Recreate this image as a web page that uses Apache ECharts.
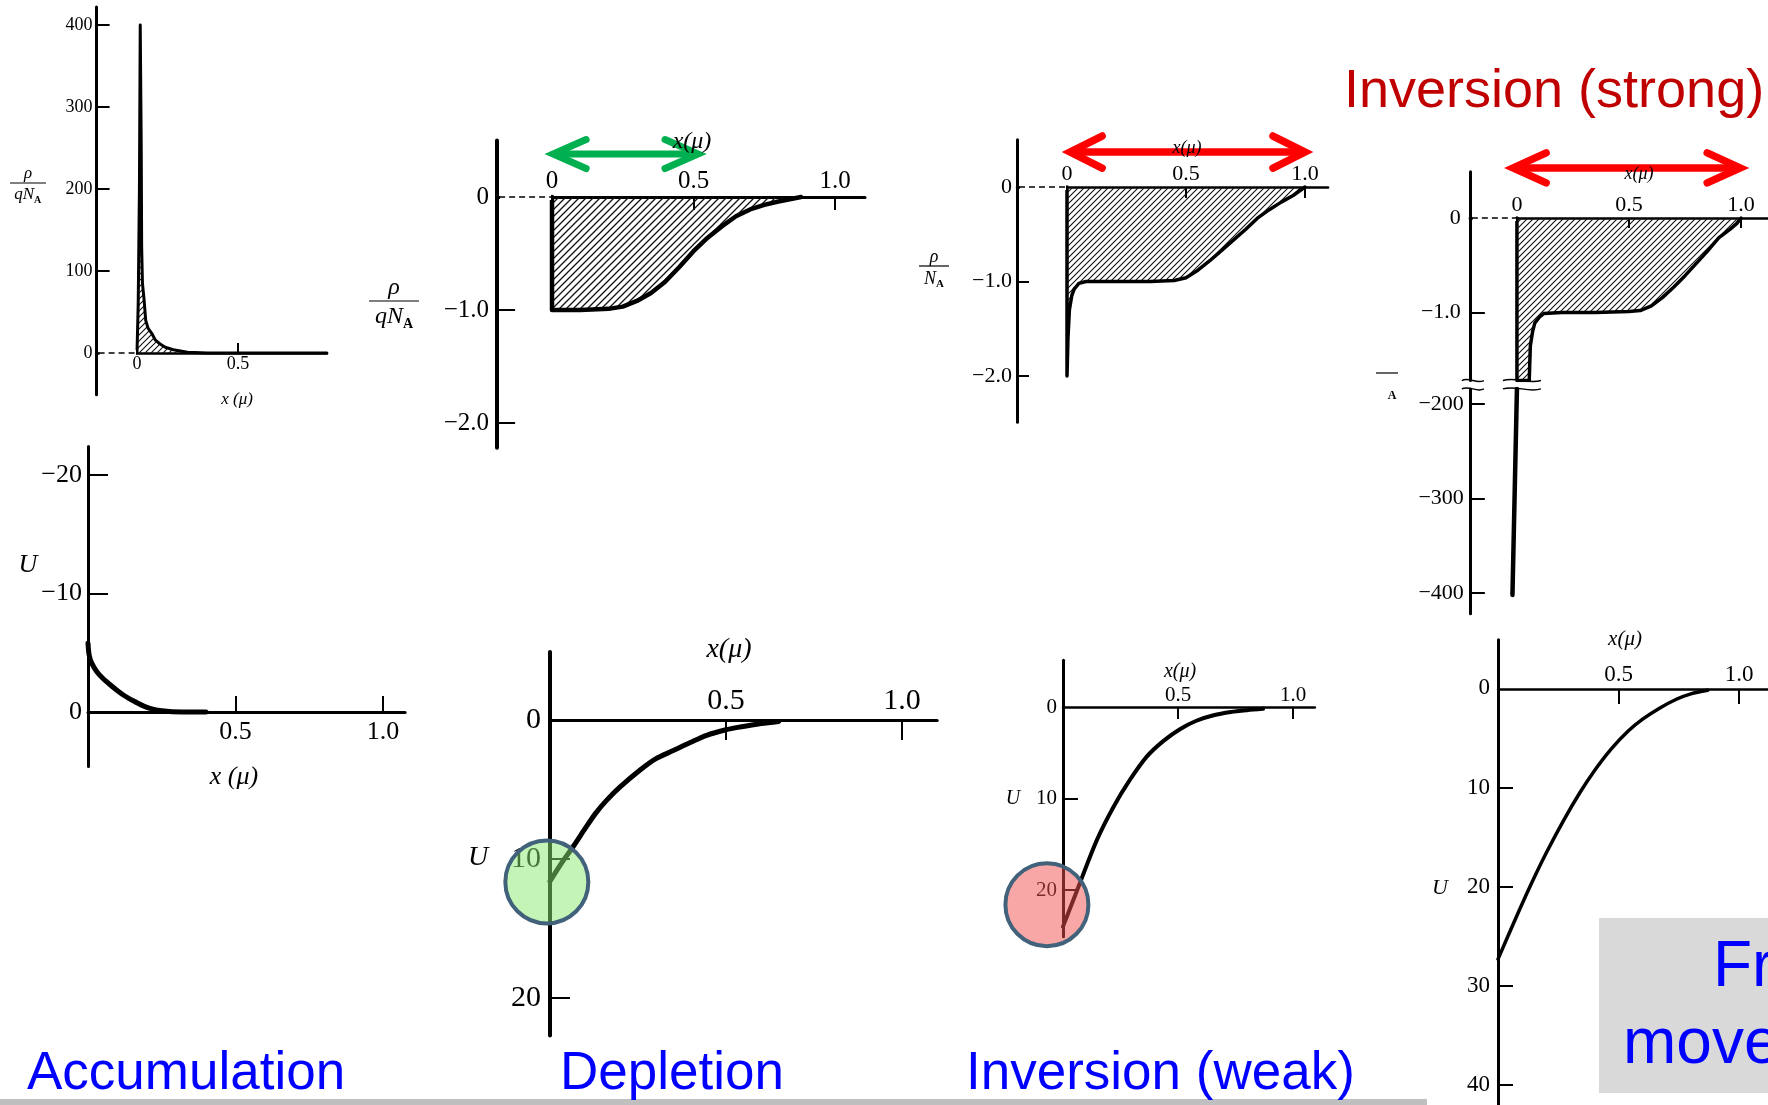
<!DOCTYPE html>
<html><head><meta charset="utf-8">
<script src="https://cdn.jsdelivr.net/npm/echarts@6/dist/echarts.min.js"></script>
<style>html,body{margin:0;padding:0;background:#fff}#c{width:1768px;height:1105px}</style>
</head><body><div id="c"></div>
<script>
// ================= DATA =================
// Space-charge density rho/qN_A vs x (micron)
const accRhoX = [0, 0.006, 0.012, 0.016, 0.02, 0.021, 0.023, 0.027, 0.035, 0.043, 0.055, 0.073, 0.09, 0.114, 0.14, 0.18, 0.25, 0.35, 0.94];
const accRhoY = [0, 60, 200, 400, 400, 250, 130, 85, 65, 40, 30, 24, 16, 11, 7, 4, 1, 0, 0];
const deplRhoX = [0, 0, 0.1, 0.2, 0.25, 0.3, 0.35, 0.4, 0.45, 0.5, 0.55, 0.6, 0.65, 0.7, 0.75, 0.8, 0.88];
const deplRhoY = [0, -1, -1, -0.99, -0.97, -0.92, -0.85, -0.75, -0.62, -0.48, -0.36, -0.26, -0.17, -0.11, -0.07, -0.04, 0];
const weakRhoX = [0, 0, 0.004, 0.01, 0.02, 0.03, 0.05, 0.08, 0.2, 0.35, 0.45, 0.5, 0.55, 0.6, 0.65, 0.7, 0.75, 0.8, 0.85, 0.9, 0.95, 1.0];
const weakRhoY = [0, -2.0, -1.6, -1.3, -1.15, -1.08, -1.02, -1.0, -1.0, -1.0, -0.99, -0.96, -0.88, -0.78, -0.67, -0.56, -0.45, -0.33, -0.24, -0.16, -0.09, 0];
const strongRhoX = [0, 0, 0.055, 0.057, 0.06, 0.07, 0.08, 0.1, 0.12, 0.2, 0.35, 0.5, 0.55, 0.6, 0.65, 0.7, 0.75, 0.8, 0.85, 0.9, 0.95, 0.98, 1.0];
const strongRhoY = [0, -1.72, -1.72, -1.55, -1.35, -1.2, -1.11, -1.05, -1.01, -1.0, -1.0, -0.99, -0.98, -0.93, -0.84, -0.73, -0.61, -0.48, -0.35, -0.21, -0.12, -0.06, 0];
const strongSpikeX = [0, -0.02];
const strongSpikeY = [-184, -402];
// Potential U vs x (micron)
const accUX = [0, 0.004, 0.013, 0.03, 0.05, 0.075, 0.1, 0.125, 0.153, 0.18, 0.21, 0.25, 0.32, 0.4];
const accUY = [-5.8, -4.8, -4.1, -3.4, -2.85, -2.3, -1.8, -1.35, -0.95, -0.6, -0.3, -0.1, 0, 0];
const deplUX = [0, 0.03, 0.066, 0.1, 0.13, 0.16, 0.2, 0.256, 0.3, 0.35, 0.4, 0.445, 0.5, 0.54, 0.6, 0.65];
const deplUY = [11.6, 10.4, 9.1, 7.8, 6.7, 5.8, 4.8, 3.6, 2.8, 2.2, 1.6, 1.1, 0.7, 0.5, 0.25, 0.1];
const weakUX = [0, 0.074, 0.148, 0.22, 0.29, 0.365, 0.437, 0.51, 0.58, 0.655, 0.73, 0.8, 0.87];
const weakUY = [24.0, 19.2, 14.5, 10.9, 8.0, 5.4, 3.7, 2.4, 1.5, 0.9, 0.55, 0.35, 0.2];
const strongUX = [0, 0.075, 0.14, 0.2, 0.27, 0.34, 0.4, 0.47, 0.54, 0.6, 0.67, 0.74, 0.8, 0.87];
const strongUY = [27.3, 23.1, 19.6, 16.6, 13.4, 10.5, 8.3, 6.1, 4.3, 3.1, 2.0, 1.1, 0.55, 0.2];
// Tick label values
const rhoAccTicks = [0, 100, 200, 300, 400];
const rhoTicks = [0, -1, -2];
const rhoStrongUpperTicks = [0, -1];
const rhoStrongLowerTicks = [-200, -300, -400];
const uAccTicks = [-20, -10, 0];
const uTicks = [0, 10, 20];
const uStrongTicks = [0, 10, 20, 30, 40];
const xTicksFull = [0, 0.5, 1];
const xTicksAcc = [0, 0.5];
const xTicksU = [0.5, 1];
// Captions
const captions = ['Accumulation', 'Depletion', 'Inversion (weak)', 'Inversion (strong)'];

// ================= LAYOUT =================
const SERIF = '"Liberation Serif", "DejaVu Serif", serif';
const SANS = '"Liberation Sans", Arial, sans-serif';
const fx = v => v === 0 ? '0' : v.toFixed(1);
const fr = v => v === 0 ? '0' : (v < 0 ? '\u2212' : '') + Math.abs(v).toFixed(1);
const fi = v => (v < 0 ? '\u2212' : '') + Math.abs(v);

function hatch(step, w) {
  const c = document.createElement('canvas');
  c.width = c.height = step;
  const g = c.getContext('2d');
  g.strokeStyle = '#111'; g.lineWidth = w; g.lineCap = 'square';
  g.beginPath();
  g.moveTo(-1, step + 1); g.lineTo(step + 1, -1);
  g.moveTo(-1, 1); g.lineTo(1, -1);
  g.moveTo(step - 1, step + 1); g.lineTo(step + 1, step - 1);
  g.stroke();
  return c;
}

const P = [
  {x0:137, xs:202, xmin:-0.2, xmax:0.94, y0:353, ys:0.82, ymin:-51, ymax:422, inv:false,
   X:accRhoX, Y:accRhoY, lw:3, hatch:[6,1.1], xpos:'bottom', xl:xTicksAcc, xt:[0.5], xtl:10, xfs:18, xm:2, xlw:2.5,
   yl:rhoAccTicks, yt:rhoAccTicks.slice(1), ytl:13, yfs:18, ym:4, ylw:3, yf:fi},
  {x0:552, xs:283, xmin:-0.194, xmax:1.106, y0:197, ys:113, ymin:-2.22, ymax:0.5, inv:false,
   X:deplRhoX, Y:deplRhoY, lw:4.5, hatch:[7,1.3], xpos:'top', xl:xTicksFull, xt:xTicksU, xtl:13, xfs:25, xm:3, xlw:3,
   yl:rhoTicks, yt:[-1,-2], ytl:18, yfs:25, ym:8, ylw:4, yf:fr},
  {x0:1067, xs:238, xmin:-0.21, xmax:1.097, y0:187, ys:94.5, ymin:-2.49, ymax:0.5, inv:false,
   X:weakRhoX, Y:weakRhoY, lw:3.5, hatch:[6,1.1], xpos:'top', xl:xTicksFull, xt:xTicksU, xtl:11, xfs:22, xm:2, xlw:2.5,
   yl:rhoTicks, yt:[-1,-2], ytl:12, yfs:22, ym:5, ylw:3, yf:fr},
  {x0:1519, xs:234, xmin:-0.21, xmax:1.12, y0:218, ys:94.5, ymin:-1.72, ymax:0.49, inv:false,
   X:strongRhoX, Y:strongRhoY, lw:3.5, hatch:[6,1.1], xpos:'top', xl:xTicksFull, xt:xTicksU, xtl:10, xfs:22, xm:2, xlw:2.5,
   yl:rhoStrongUpperTicks, yt:[-1], ytl:15, yfs:22, ym:9, ylw:3, yf:fr},
  {x0:1519, xs:234, xmin:-0.21, xmax:1.12, y0:215, ys:0.945, ymin:-422, ymax:-184, inv:false,
   X:strongSpikeX, Y:strongSpikeY, lw:4.5, hatch:null, xhide:true,
   yl:rhoStrongLowerTicks, yt:rhoStrongLowerTicks, ytl:15, yfs:22, ym:6, ylw:3, yf:fi},
  {x0:88, xs:295, xmin:0, xmax:1.075, y0:712, ys:11.85, ymin:-22.4, ymax:4.6, inv:true, smooth:true,
   X:accUX, Y:accUY, lw:5, hatch:null, xpos:'bottom', xl:xTicksU, xt:xTicksU, xtl:16, xfs:26, xm:7, xlw:3,
   yl:uAccTicks, yt:[-20,-10], ytl:20, yfs:26, ym:6, ylw:3, yf:fi},
  {x0:550, xs:352, xmin:0, xmax:1.1, y0:720, ys:13.9, ymin:-4.9, ymax:22.7, inv:true, smooth:true,
   X:deplUX, Y:deplUY, lw:5, hatch:null, xpos:'top', xl:xTicksU, xt:xTicksU, xtl:20, xfs:30, xm:4, xlw:3,
   yl:uTicks, yt:[10,20], ytl:20, yfs:30, ym:9, ylw:4, yf:fi},
  {x0:1063, xs:230, xmin:0, xmax:1.095, y0:707, ys:9.15, ymin:-5.1, ymax:25.1, inv:true, smooth:true,
   X:weakUX, Y:weakUY, lw:4, hatch:null, xpos:'top', xl:xTicksU, xt:xTicksU, xtl:12, xfs:21, xm:1, xlw:2.5,
   yl:uTicks, yt:[10,20], ytl:15, yfs:21, ym:6, ylw:3, yf:fi},
  {x0:1498, xs:252, xmin:0, xmax:1.12, y0:689, ys:10.05, ymin:-4.9, ymax:42, inv:true, smooth:true,
   X:strongUX, Y:strongUY, lw:3.5, hatch:null, xpos:'top', xl:xTicksU, xt:xTicksU, xtl:15, xfs:23, xm:3, xlw:2.5,
   yl:uStrongTicks, yt:[10,20,30,40], ytl:15, yfs:23, ym:8, ylw:3, yf:fi}
];

const grids = [], xAxes = [], yAxes = [], series = [];
P.forEach((p, i) => {
  const h = (p.ymax - p.ymin) * p.ys;
  const top = p.inv ? p.y0 + p.ymin * p.ys : p.y0 - p.ymax * p.ys;
  const bottom = top + h;
  grids.push({left: p.x0 + p.xmin * p.xs, top: top, width: (p.xmax - p.xmin) * p.xs, height: h, containLabel: false});
  if (p.xhide) {
    xAxes.push({gridIndex:i, type:'value', min:p.xmin, max:p.xmax, show:false});
  } else {
    // place the x axis on the zero line of the y scale by offsetting it inward
    const off = p.xpos === 'top' ? -(p.y0 - top) : -(bottom - p.y0);
    xAxes.push({gridIndex:i, type:'value', min:p.xmin, max:p.xmax, position:p.xpos, offset:off,
      axisLine:{show:true, onZero:false, lineStyle:{color:'#000', width:p.xlw}},
      axisTick:{show:true, inside:true, length:p.xtl, customValues:p.xt, lineStyle:{color:'#000', width:2}},
      axisLabel:{show:true, customValues:p.xl, formatter:fx, margin:p.xm, color:'#000', fontFamily:SERIF, fontSize:p.xfs},
      splitLine:{show:false}});
  }
  yAxes.push({gridIndex:i, type:'value', min:p.ymin, max:p.ymax, inverse:p.inv, position:'left',
    axisLine:{show:true, onZero:false, lineStyle:{color:'#000', width:p.ylw}},
    axisTick:{show:true, inside:true, length:p.ytl, customValues:p.yt, lineStyle:{color:'#000', width:2}},
    axisLabel:{show:true, customValues:p.yl, formatter:p.yf, margin:p.ym, color:'#000', fontFamily:SERIF, fontSize:p.yfs},
    splitLine:{show:false}});
  const s = {type:'line', xAxisIndex:i, yAxisIndex:i, data:p.X.map((x, k) => [x, p.Y[k]]),
    symbol:'none', showSymbol:false, silent:true, z:3,
    lineStyle:{color:'#000', width:p.lw, join:'round', cap:'round'}};
  if (p.smooth) { s.smooth = 0.3; }
  if (p.hatch) s.areaStyle = {color:{image:hatch(p.hatch[0], p.hatch[1]), repeat:'repeat'}, opacity:1};
  series.push(s);
});

const chart = echarts.init(document.getElementById('c'), null, {renderer:'canvas'});
chart.setOption({animation:false, backgroundColor:'#fff', grid:grids, xAxis:xAxes, yAxis:yAxes, series:series});

// ================= DECORATIONS =================
const px = (i, x, y) => chart.convertToPixel({gridIndex:i}, [x, y]);
const g = [];
// dashed zero line left of x=0 on charge-density panels
[0, 1, 2, 3].forEach(i => {
  const a = px(i, P[i].xmin, 0), b = px(i, 0, 0);
  g.push({type:'line', z:50, shape:{x1:a[0] + 3, y1:a[1], x2:b[0] - 1, y2:b[1]}, style:{stroke:'#fff', lineWidth:6}});
  g.push({type:'line', z:51, shape:{x1:a[0] + 2, y1:a[1], x2:b[0], y2:b[1]}, style:{stroke:'#000', lineWidth:1.5, lineDash:[6, 4]}});
});
function arrow(i, xa, xb, y, color, dx, dy, w) {
  const a = px(i, xa, y), b = px(i, xb, y);
  g.push({type:'line', z:60, shape:{x1:a[0] + 2, y1:a[1], x2:b[0] - 2, y2:b[1]}, style:{stroke:color, lineWidth:w}});
  g.push({type:'polyline', z:60, shape:{points:[[a[0] + dx, a[1] - dy], [a[0], a[1]], [a[0] + dx, a[1] + dy]]}, style:{stroke:color, lineWidth:w, lineCap:'round', lineJoin:'miter', fill:null}});
  g.push({type:'polyline', z:60, shape:{points:[[b[0] - dx, b[1] - dy], [b[0], b[1]], [b[0] - dx, b[1] + dy]]}, style:{stroke:color, lineWidth:w, lineCap:'round', lineJoin:'miter', fill:null}});
}
arrow(1, 0.004, 0.516, 0.38, '#00b050', 33, 14.5, 7);
arrow(2, 0.013, 1.0, 0.37, '#ff0000', 32, 16, 7.5);
arrow(3, -0.017, 0.996, 0.53, '#ff0000', 33, 15, 7.5);
function ring(i, x, y, r, fill) {
  const c = px(i, x, y);
  g.push({type:'circle', z:70, shape:{cx:c[0], cy:c[1], r:r}, style:{fill:fill, stroke:'#41627a', lineWidth:4}});
}
ring(6, -0.009, 11.65, 41.5, 'rgba(140,235,110,0.5)');
ring(7, -0.07, 21.6, 41.5, 'rgba(243,78,78,0.5)');
// axis break marks on strong-inversion panel
function tilde(xa, xb, y) {
  g.push({type:'bezierCurve', z:55, shape:{x1:xa, y1:y, x2:xb, y2:y, cpx1:xa + (xb - xa) / 3, cpy1:y - 4, cpx2:xa + 2 * (xb - xa) / 3, cpy2:y + 4}, style:{stroke:'#000', lineWidth:1.5, fill:null}});
}
const bU = px(3, P[3].xmin, P[3].ymin), bL = px(4, P[4].xmin, P[4].ymax), s0 = px(3, 0, P[3].ymin);
tilde(bU[0] - 8, bU[0] + 14, bU[1]); tilde(bL[0] - 8, bL[0] + 14, bL[1]);
tilde(s0[0] - 14, s0[0] + 24, bU[1]); tilde(s0[0] - 14, s0[0] + 24, bL[1]);

function txt(x, y, s, font, color, align) {
  g.push({type:'text', z:80, x:x, y:y, style:{text:s, font:font, fill:color || '#000', textAlign:align || 'center', textVerticalAlign:'middle', align:align || 'center', verticalAlign:'middle'}});
}
function frac(cx, yTop, yBar, yBot, half, top, main, sub, fs, split) {
  txt(cx, yTop, top, 'italic ' + fs + 'px ' + SERIF);
  g.push({type:'line', z:80, shape:{x1:cx - half, y1:yBar, x2:cx + half, y2:yBar}, style:{stroke:'#000', lineWidth:1.2}});
  txt(cx + split, yBot, main, 'italic ' + fs + 'px ' + SERIF, '#000', 'right');
  txt(cx + split, yBot + fs * 0.3, sub, 'bold ' + Math.round(fs * 0.6) + 'px ' + SERIF, '#000', 'left');
}
frac(28, 174, 183, 195, 18, '\u03c1', 'qN', 'A', 17, 6);
frac(394, 288, 301, 317, 25, '\u03c1', 'qN', 'A', 24, 9);
frac(934, 257, 266, 279, 15, '\u03c1', 'N', 'A', 18, 2);
g.push({type:'line', z:80, shape:{x1:1376, y1:373, x2:1398, y2:373}, style:{stroke:'#000', lineWidth:1.2}});
txt(1392, 396, 'A', 'bold 12px ' + SERIF);
// axis names
const xn = 'x(\u03bc)', xn2 = 'x (\u03bc)';
txt(237, 400, xn2, 'italic 17px ' + SERIF);
txt(692, 142, xn, 'italic 24px ' + SERIF);
txt(1187, 148, xn, 'italic 18px ' + SERIF);
txt(1639, 174, xn, 'italic 18px ' + SERIF);
txt(234, 777, xn2, 'italic 26px ' + SERIF);
txt(729, 650, xn, 'italic 28px ' + SERIF);
txt(1180, 672, xn, 'italic 20px ' + SERIF);
txt(1625, 639, xn, 'italic 21px ' + SERIF);
txt(28, 565, 'U', 'italic 26px ' + SERIF);
txt(478, 858, 'U', 'italic 28px ' + SERIF);
txt(1013, 799, 'U', 'italic 20px ' + SERIF);
txt(1440, 888, 'U', 'italic 22px ' + SERIF);
// boxes
g.push({type:'rect', z:1, shape:{x:1599, y:918, width:180, height:175}, style:{fill:'#d9d9d9'}});
g.push({type:'rect', z:1, shape:{x:0, y:1099, width:1427, height:6}, style:{fill:'#bfbfbf'}});
// captions
txt(27, 1074, captions[0], '53px ' + SANS, '#0000ff', 'left');
txt(560, 1074, captions[1], '53px ' + SANS, '#0000ff', 'left');
txt(966, 1074, captions[2], '53px ' + SANS, '#0000ff', 'left');
txt(1344, 92, captions[3], '54px ' + SANS, '#c00000', 'left');
txt(1713, 968, 'Fr', '64px ' + SANS, '#0000ff', 'left');
txt(1623, 1045, 'move', '64px ' + SANS, '#0000ff', 'left');

chart.setOption({graphic:{elements:g}});
</script></body></html>
